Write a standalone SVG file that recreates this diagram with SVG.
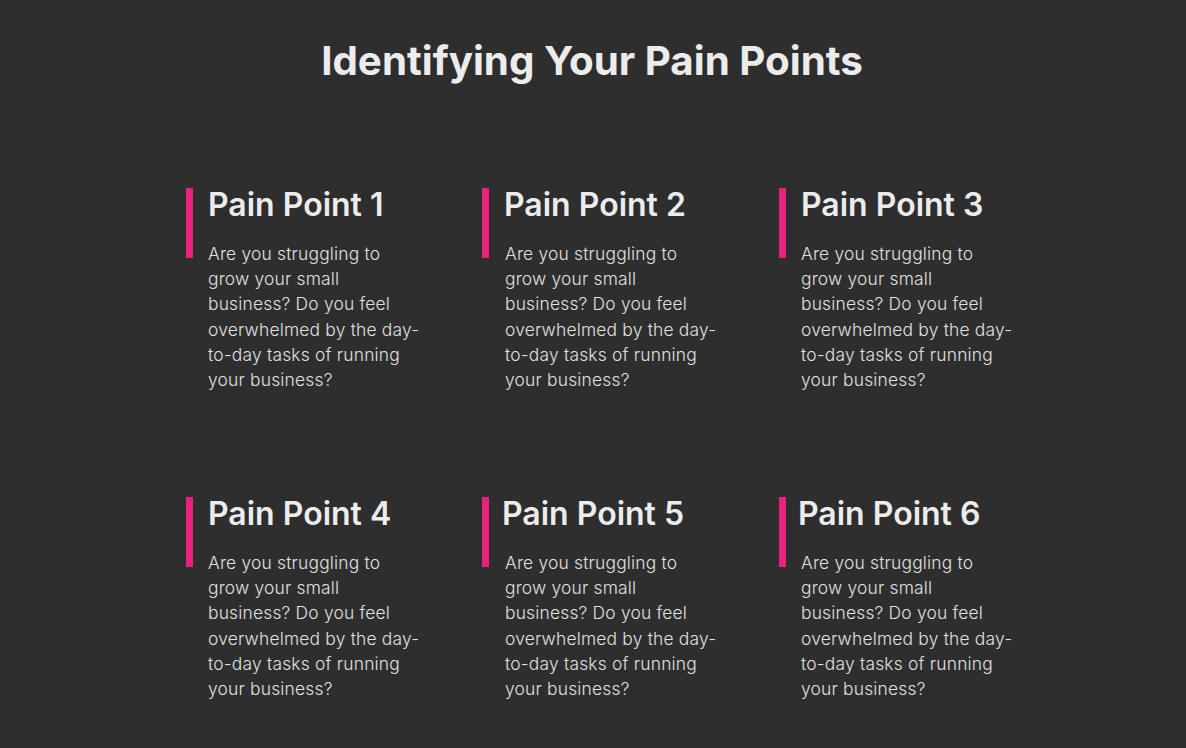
<svg xmlns="http://www.w3.org/2000/svg" width="1186" height="748" viewBox="0 0 1186 748">
<style>
.t{font-family:Inter,"Liberation Sans",sans-serif;fill:#ececec}
.title{font-size:40.3px;font-weight:700}
.h{font-size:32px;font-weight:600}
.b{font-size:17.4px;font-weight:300;fill:#e0e0e0;letter-spacing:0.2px}
.bar{fill:#e8227d}
</style>
<rect width="1186" height="748" fill="#2e2e2e"/>
<text class="t title" x="592" y="75" text-anchor="middle">Identifying Your Pain Points</text>
<defs>
<g id="body">
<text class="t b"><tspan x="0" y="0">Are you struggling to</tspan><tspan x="0" y="25.2">grow your small</tspan><tspan x="0" y="50.4">business? Do you feel</tspan><tspan x="0" y="75.6">overwhelmed by the day-</tspan><tspan x="0" y="100.8">to-day tasks of running</tspan><tspan x="0" y="126">your business?</tspan></text>
</g>
</defs>
<g id="p1"><rect class="bar" x="186" y="188" width="7" height="70"/><text class="t h" x="208" y="216">Pain Point 1</text><use href="#body" x="208" y="260"/></g>
<g id="p2"><rect class="bar" x="482" y="188" width="7" height="70"/><text class="t h" x="504" y="216">Pain Point 2</text><use href="#body" x="505" y="260"/></g>
<g id="p3"><rect class="bar" x="779" y="188" width="7" height="70"/><text class="t h" x="801" y="216">Pain Point 3</text><use href="#body" x="801" y="260"/></g>
<g id="p4"><rect class="bar" x="186" y="497" width="7" height="70"/><text class="t h" x="208" y="525">Pain Point 4</text><use href="#body" x="208" y="569"/></g>
<g id="p5"><rect class="bar" x="482" y="497" width="7" height="70"/><text class="t h" x="502" y="525">Pain Point 5</text><use href="#body" x="505" y="569"/></g>
<g id="p6"><rect class="bar" x="779" y="497" width="7" height="70"/><text class="t h" x="798" y="525">Pain Point 6</text><use href="#body" x="801" y="569"/></g>
</svg>
